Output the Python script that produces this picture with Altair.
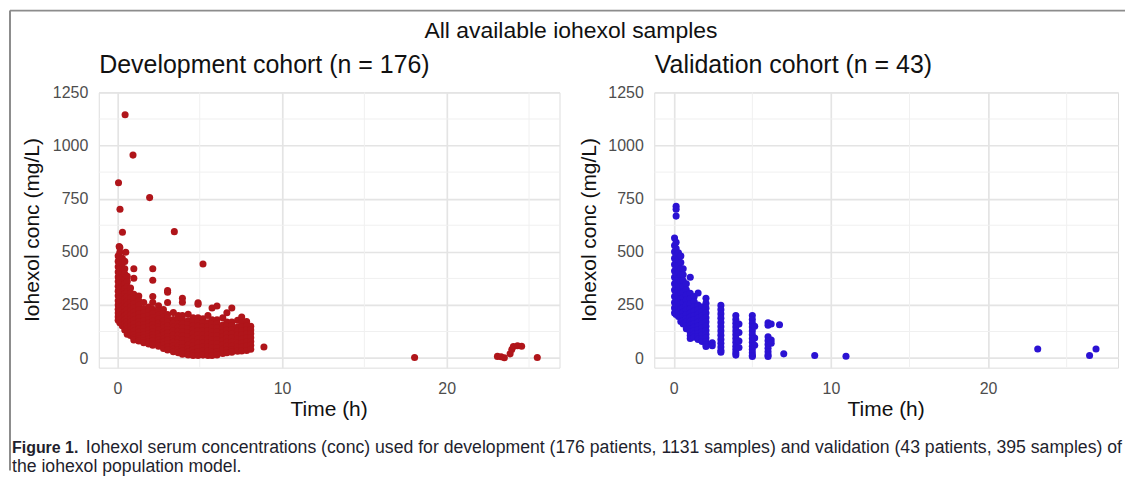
import altair as alt
import pandas as pd

# ---------------- data ----------------
# Development cohort: sampling-time columns and the concentrations seen in each
dev_col_times = [0.05, 0.15, 0.3, 0.45, 0.6, 0.8, 1.0, 1.3, 1.6, 1.9, 2.15, 2.5, 2.8, 3.05,
                 3.4, 3.7, 3.95, 4.3, 4.6, 4.9, 5.2, 5.5, 5.75, 6.05, 6.4, 6.65, 6.95,
                 7.3, 7.55, 7.85, 8.1]
dev_col_concs = [
    [480, 455, 430, 405, 382, 360, 338, 315, 293, 270, 250, 230, 212, 195, 178],
    [520, 498, 472, 445, 420, 398, 375, 352, 330, 308, 285, 262, 240, 220, 200, 182, 166],
    [470, 448, 425, 400, 378, 355, 333, 310, 288, 266, 245, 225, 205, 187, 170, 152],
    [455, 420, 395, 370, 348, 325, 302, 280, 258, 238, 218, 198, 180, 162, 145, 132],
    [385, 360, 335, 312, 290, 268, 248, 228, 208, 190, 172, 155, 138, 122, 112],
    [330, 305, 283, 262, 242, 222, 203, 185, 168, 150, 133, 118, 106],
    [420, 376, 300, 278, 256, 236, 216, 197, 178, 160, 143, 126, 110, 95, 85],
    [292, 270, 248, 228, 208, 190, 172, 155, 138, 122, 106, 92, 80],
    [262, 232, 212, 193, 175, 158, 141, 125, 110, 96, 83, 72],
    [240, 220, 200, 182, 165, 148, 132, 116, 101, 88, 76, 66],
    [420, 366, 290, 262, 230, 210, 191, 173, 156, 140, 124, 108, 94, 80, 68, 60],
    [246, 222, 202, 184, 166, 149, 132, 116, 100, 85, 70, 56],
    [228, 210, 192, 174, 157, 140, 123, 107, 91, 76, 60, 45],
    [318, 310, 262, 205, 187, 169, 152, 135, 118, 101, 85, 68, 52, 38],
    [214, 182, 164, 146, 128, 110, 92, 75, 58, 42, 30],
    [200, 182, 163, 145, 127, 109, 91, 73, 56, 40, 25],
    [282, 263, 200, 181, 162, 143, 124, 105, 86, 68, 50, 33, 18],
    [206, 176, 157, 138, 119, 100, 81, 62, 44, 28, 15],
    [190, 171, 152, 133, 114, 95, 76, 58, 40, 24, 12],
    [260, 253, 190, 170, 150, 130, 110, 90, 70, 50, 30, 12],
    [443, 185, 166, 147, 128, 109, 90, 71, 52, 33, 14],
    [200, 166, 147, 128, 109, 90, 71, 52, 33, 12],
    [236, 180, 161, 142, 123, 104, 85, 66, 47, 28, 12],
    [245, 180, 161, 142, 123, 104, 85, 66, 47, 30, 15],
    [190, 156, 137, 118, 99, 80, 61, 42, 22],
    [213, 170, 151, 132, 113, 94, 75, 56, 38, 25],
    [236, 170, 151, 132, 113, 94, 75, 56, 38, 28],
    [178, 146, 127, 108, 89, 70, 51, 32],
    [193, 165, 146, 127, 108, 89, 70, 51, 33],
    [172, 152, 133, 114, 95, 76, 57, 36],
    [150, 132, 114, 96, 78, 60, 42],
]
dev_out_times = [0.47, 0.95, 0.07, 1.96, 0.16, 3.46, 0.31, 0.11, 0.51, 8.9, 18.05,
                 23.08, 23.3, 23.5, 23.85, 23.95, 24.05, 24.3, 24.55, 25.5]
dev_out_concs = [1145, 955, 825, 755, 700, 595, 592, 525, 498, 52, 3,
                 8, 6, 2, 20, 40, 55, 58, 56, 3]

# Validation cohort
val_col_times = [0.05, 0.15, 0.3, 0.45, 0.6, 0.8, 1.05, 1.3, 1.55, 1.8, 2.05, 2.45,
                 3.0, 3.95, 4.15, 5.0, 5.15, 6.0, 6.2]
val_col_concs = [
    [565, 530, 500, 470, 440, 410, 380, 350, 320, 290, 262, 236, 212],
    [714, 700, 668, 545, 515, 485, 455, 425, 395, 365, 335, 305, 278, 250, 225, 205],
    [495, 465, 435, 405, 375, 345, 318, 292, 266, 240, 218, 196],
    [480, 450, 420, 390, 362, 334, 306, 280, 255, 232, 210, 190, 172],
    [420, 392, 364, 336, 310, 285, 260, 237, 215, 195, 176, 160],
    [350, 322, 296, 272, 248, 226, 205, 186, 168, 152, 138],
    [380, 305, 280, 256, 233, 212, 192, 173, 155, 138, 122, 106, 92],
    [290, 265, 242, 220, 199, 180, 162, 145, 128, 112, 98],
    [306, 250, 228, 207, 187, 168, 150, 133, 116, 100, 88],
    [240, 218, 198, 178, 160, 142, 125, 108, 92, 78],
    [282, 258, 235, 212, 190, 170, 150, 130, 112, 95, 78, 64, 55],
    [72, 58],
    [248, 228, 208, 188, 168, 148, 128, 108, 88, 70, 52, 36, 28],
    [200, 182, 164, 146, 128, 110, 92, 74, 56, 40, 25, 14],
    [160, 120, 80, 50],
    [200, 182, 164, 146, 128, 110, 92, 74, 56, 40, 25, 12, 8],
    [150, 95, 60],
    [166, 155, 100, 82, 64, 46, 30, 15, 8],
    [160, 85, 70],
]
val_out_times = [6.73, 7.0, 8.97, 10.96, 23.16, 26.46, 26.87]
val_out_concs = [157, 20, 12, 9, 43, 12, 43]

y_ticks = [0, 250, 500, 750, 1000, 1250]
y_minor = [125, 375, 625, 875, 1125]
x_ticks = [0, 10, 20]
x_minor = [5, 15, 25]

main_title = "All available iohexol samples"
dev_title = "Development cohort (n = 176)"
val_title = "Validation cohort (n = 43)"
y_title = "Iohexol conc (mg/L)"
x_title = "Time (h)"
cap_bold = "Figure 1."
cap_line1 = ("Iohexol serum concentrations (conc) used for development (176 patients, "
             "1131 samples) and validation (43 patients, 395 samples) of")
cap_line2 = "the iohexol population model."

DEV_COLOR = "#B0151A"
VAL_COLOR = "#2B12D3"
FONT = "Liberation Sans"


def flatten(col_times, col_concs, out_times, out_concs):
    t, c = [], []
    for tt, cs in zip(col_times, col_concs):
        t += [tt] * len(cs)
        c += list(cs)
    t += list(out_times)
    c += list(out_concs)
    return pd.DataFrame({"time": t, "conc": c})


dev_df = flatten(dev_col_times, dev_col_concs, dev_out_times, dev_out_concs)
val_df = flatten(val_col_times, val_col_concs, val_out_times, val_out_concs)
one = pd.DataFrame({"k": [0]})

H = 276


def txt(text, x, y, size, **kw):
    return alt.Chart(one).mark_text(text=text, fontSize=size, font=FONT, **kw).encode(
        x=alt.value(x), y=alt.value(y))


def panel(df, color, xdom, width, subtitle, ytitle_x, extras):
    xs = alt.Scale(domain=xdom, nice=False, zero=False)
    ys = alt.Scale(domain=[-45, 1250], nice=False, zero=False)
    xaxis = alt.Axis(values=x_ticks, title=None, grid=True, gridColor="#E4E4E4",
                     gridWidth=1.7, domain=False, ticks=False, tickSize=0, format="d",
                     labelFontSize=16, labelColor="#4D4D4D", labelPadding=13,
                     labelFont=FONT)
    yaxis = alt.Axis(values=y_ticks, title=None, grid=True, gridColor="#E4E4E4",
                     gridWidth=1.7, domain=False, ticks=False, tickSize=0, format="d",
                     labelFontSize=16, labelColor="#4D4D4D", labelPadding=11,
                     labelFont=FONT)
    minor_h = alt.Chart(pd.DataFrame({"v": y_minor})).mark_rule(
        color="#F0F0F0", strokeWidth=1).encode(y=alt.Y("v:Q", scale=ys, axis=yaxis))
    minor_v = alt.Chart(pd.DataFrame({"v": x_minor})).mark_rule(
        color="#F0F0F0", strokeWidth=1).encode(x=alt.X("v:Q", scale=xs, axis=xaxis))
    pts = alt.Chart(df).mark_circle(size=50, opacity=1, color=color).encode(
        x=alt.X("time:Q", scale=xs, axis=xaxis),
        y=alt.Y("conc:Q", scale=ys, axis=yaxis),
    )
    texts = [
        txt(subtitle, 0.5, -19.5, 25, align="left", baseline="alphabetic", color="#111111"),
        txt(y_title, ytitle_x, H / 2, 21, align="center", baseline="middle", angle=270,
            color="#111111"),
        txt(x_title, width / 2, 318, 21, align="center", baseline="middle", color="#111111"),
    ]
    return alt.layer(minor_h, minor_v, pts, *texts, *extras).properties(width=width, height=H)


left_extras = [
    alt.Chart(one).mark_rule(color="#8C8C8C", strokeWidth=2).encode(
        x=alt.value(-89), x2=alt.value(1029), y=alt.value(-82)),
    alt.Chart(one).mark_rule(color="#8C8C8C", strokeWidth=2).encode(
        x=alt.value(-89), y=alt.value(-82), y2=alt.value(379)),
    txt(main_title, 473.5, -54.5, 23, align="center", baseline="alphabetic", color="#111111"),
    txt(cap_bold, -87, 362, 16, align="left", baseline="alphabetic", fontWeight="bold",
        color="#1F1F2E"),
    txt(cap_line1, -13, 362, 17.7, align="left", baseline="alphabetic", color="#1F1F2E"),
    txt(cap_line2, -87, 381, 17.7, align="left", baseline="alphabetic", color="#1F1F2E"),
]

left = panel(dev_df, DEV_COLOR, [-1.13, 26.85], 462, dev_title, -66, left_extras)
right = panel(val_df, VAL_COLOR, [-1.24, 28.27], 465, val_title, -64, [])

chart = alt.hconcat(left, right, spacing=95, bounds="flush").properties(
    padding=0
).configure_view(stroke=None).configure(background="white")

chart.save("out.html", embed_options={"renderer": "svg", "actions": False})
